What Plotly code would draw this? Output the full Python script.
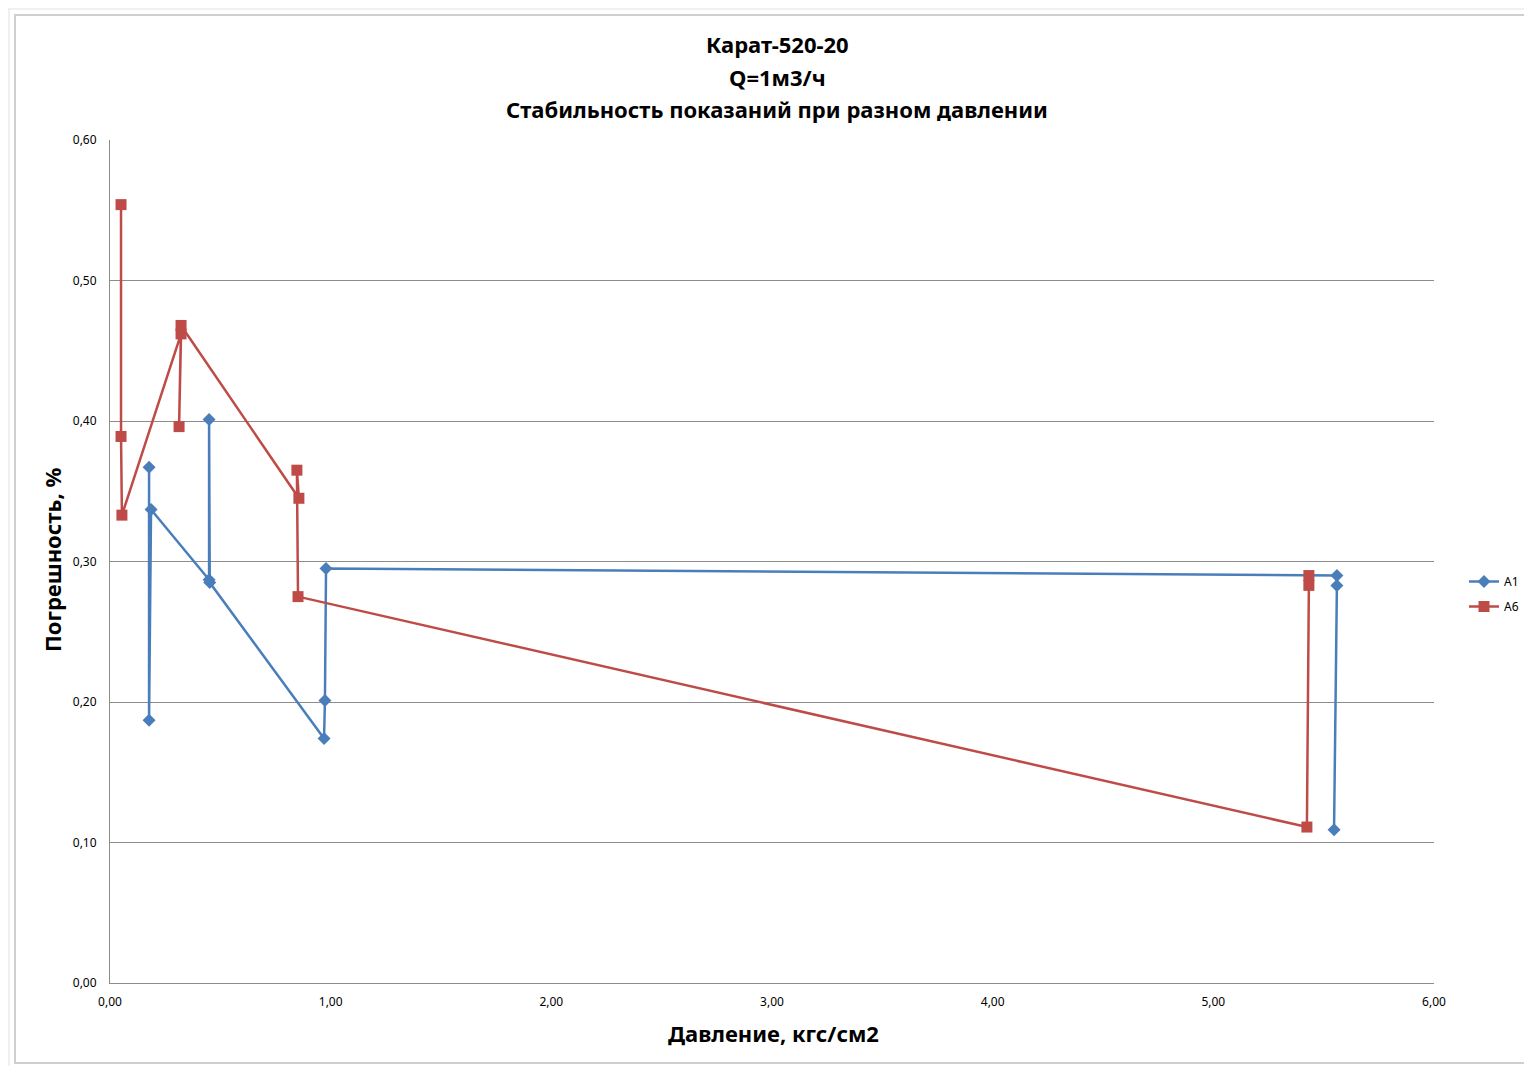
import plotly.graph_objects as go

# A1 series (blue diamonds), in data order
a1_x = [0.177, 0.177, 0.186, 0.449, 0.449, 0.452, 0.970, 0.974, 0.979, 5.560, 5.560, 5.547]
a1_y = [0.367, 0.187, 0.337, 0.287, 0.401, 0.285, 0.174, 0.201, 0.295, 0.290, 0.283, 0.109]

# A6 series (red squares), in data order
a6_x = [0.050, 0.050, 0.054, 0.322, 0.313, 0.322, 0.856, 0.847, 0.852, 5.424, 5.433, 5.433]
a6_y = [0.554, 0.389, 0.333, 0.462, 0.396, 0.468, 0.345, 0.365, 0.275, 0.111, 0.283, 0.290]

x_ticks = [0, 1, 2, 3, 4, 5, 6]
y_ticks = [0.0, 0.1, 0.2, 0.3, 0.4, 0.5, 0.6]

title_lines = ["Карат-520-20", "Q=1м3/ч", "Стабильность показаний при разном давлении"]
x_title = "Давление, кгс/см2"
y_title = "Погрешность, %"

BLUE = "#4A7EBB"
RED = "#BE4B48"
GRID = "#8C8C8C"
FONT = "Noto Sans"

W, H = 1524, 1066
L, R, T, B = 110, 90, 140, 83
PW, PH = W - L - R, H - T - B


def px_x(p):
    return (p - L) / PW


def px_y(p):
    return (H - B - p) / PH


fig = go.Figure()
fig.add_trace(go.Scatter(
    x=a1_x, y=a1_y, name="A1", mode="lines+markers", legendgroup="a1",
    line=dict(color=BLUE, width=2.5),
    marker=dict(symbol="diamond", size=10, color=BLUE),
))
fig.add_trace(go.Scatter(
    x=a6_x, y=a6_y, name="A6", mode="lines+markers", legendgroup="a6",
    line=dict(color=RED, width=2.5),
    marker=dict(symbol="square", size=11, color=RED),
))

annotations = []
for txt, yp in zip(title_lines, [44, 77, 109]):
    annotations.append(dict(text="<b>" + txt + "</b>", x=px_x(777), y=px_y(yp),
                            xref="paper", yref="paper", xanchor="center", yanchor="middle",
                            showarrow=False, font=dict(size=22, family=FONT)))
annotations.append(dict(text="<b>" + x_title + "</b>", x=px_x(773), y=px_y(1033),
                        xref="paper", yref="paper", xanchor="center", yanchor="middle",
                        showarrow=False, font=dict(size=22, family=FONT)))
annotations.append(dict(text="<b>" + y_title + "</b>", x=px_x(52), y=px_y(560),
                        xref="paper", yref="paper", xanchor="center", yanchor="middle",
                        showarrow=False, textangle=-90, font=dict(size=22, family=FONT)))

fig.update_layout(
    width=W, height=H,
    margin=dict(l=L, r=R, t=T, b=B, autoexpand=False),
    paper_bgcolor="white", plot_bgcolor="white",
    separators=", ",
    font=dict(family=FONT, color="#000000"),
    showlegend=True,
    legend=dict(x=px_x(1464), y=px_y(594), xanchor="left", yanchor="middle",
                font=dict(size=12, family=FONT), bgcolor="rgba(0,0,0,0)",
                tracegroupgap=6, itemwidth=30),
    xaxis=dict(range=[0, 6], tickvals=x_ticks, tickformat=".2f",
               showgrid=False, zeroline=False, showline=True,
               linecolor=GRID, linewidth=1, ticks="",
               tickfont=dict(size=12, family=FONT), ticklabelstandoff=8),
    yaxis=dict(range=[0, 0.6], tickvals=y_ticks, tickformat=".2f",
               showgrid=True, gridcolor=GRID, gridwidth=1,
               zeroline=False, showline=True, linecolor=GRID, linewidth=1,
               ticks="", tickfont=dict(size=12, family=FONT), ticklabelstandoff=10),
    annotations=annotations,
    shapes=[
        dict(type="rect", xref="paper", yref="paper",
             x0=px_x(15), x1=px_x(1540), y0=px_y(1063), y1=px_y(15),
             line=dict(color="#CFCFCF", width=2), layer="below"),
        dict(type="line", xref="paper", yref="paper",
             x0=px_x(8), x1=px_x(1524), y0=px_y(9), y1=px_y(9),
             line=dict(color="#E3E3E3", width=1)),
        dict(type="line", xref="paper", yref="paper",
             x0=px_x(9), x1=px_x(9), y0=px_y(1066), y1=px_y(9),
             line=dict(color="#E3E3E3", width=1)),
    ],
)

fig.write_html("out.html")
